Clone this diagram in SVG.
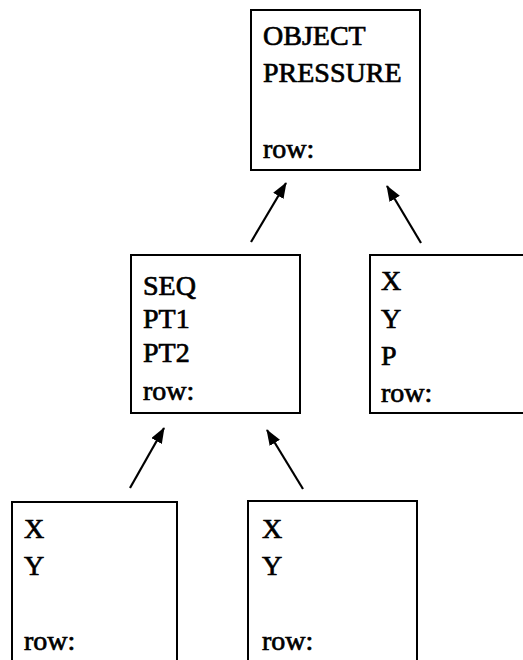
<svg xmlns="http://www.w3.org/2000/svg" width="523" height="660" viewBox="0 0 523 660">
<style>
.box{fill:#fff;stroke:#000;stroke-width:2}
.t{font-family:"Liberation Serif","Times New Roman",serif;font-size:28px;fill:#000;stroke:#000;stroke-width:0.7}
.c{stroke:#000;stroke-width:2.2;fill:none}
</style>
<defs>
<marker id="ah" viewBox="0 0 16 12" refX="15" refY="6" markerWidth="16" markerHeight="12" markerUnits="userSpaceOnUse" orient="auto">
<path d="M0,0 L16,6 L0,12 Z" fill="#000"/>
</marker>
</defs>
<rect width="523" height="660" fill="#fff"/>
<g id="connectors">
<line class="c" x1="251" y1="242" x2="286" y2="183" marker-end="url(#ah)"/>
<line class="c" x1="421" y1="243" x2="387" y2="186" marker-end="url(#ah)"/>
<line class="c" x1="130" y1="488" x2="164" y2="428" marker-end="url(#ah)"/>
<line class="c" x1="303" y1="489" x2="267" y2="430" marker-end="url(#ah)"/>
</g>
<g id="object-pressure">
<rect class="box" x="251" y="10" width="169" height="160"/>
<text class="t" x="263" y="45">OBJECT</text>
<text class="t" x="263" y="82">PRESSURE</text>
<text class="t" x="263" y="158">row:</text>
</g>
<g id="seq">
<rect class="box" x="131" y="255" width="169" height="158"/>
<text class="t" x="143" y="295">SEQ</text>
<text class="t" x="143" y="328">PT1</text>
<text class="t" x="143" y="362">PT2</text>
<text class="t" x="143" y="400">row:</text>
</g>
<g id="xyp">
<rect class="box" x="370" y="255" width="170" height="158"/>
<text class="t" x="381" y="290">X</text>
<text class="t" x="381" y="328">Y</text>
<text class="t" x="381" y="365">P</text>
<text class="t" x="381" y="402">row:</text>
</g>
<g id="xy-left">
<rect class="box" x="12" y="502" width="165" height="170"/>
<text class="t" x="24" y="538">X</text>
<text class="t" x="24" y="575">Y</text>
<text class="t" x="24" y="650">row:</text>
</g>
<g id="xy-right">
<rect class="box" x="248" y="501" width="169" height="170"/>
<text class="t" x="262" y="538">X</text>
<text class="t" x="262" y="575">Y</text>
<text class="t" x="262" y="650">row:</text>
</g>
</svg>
